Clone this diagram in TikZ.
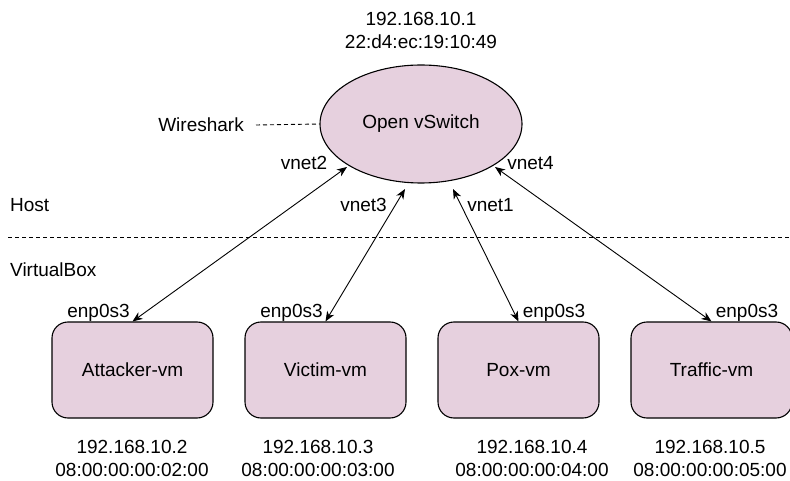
\documentclass[tikz,border=0pt]{standalone}
\usepackage{fontspec}
\setmainfont{Liberation Sans}
\usetikzlibrary{arrows.meta,shapes.geometric}
\definecolor{vmfill}{HTML}{E6D0DE}
\begin{document}
\begin{tikzpicture}[x=1pt,y=-1pt,
  txt/.style={inner sep=0pt,font=\fontsize{19}{22}\selectfont},
  vmbox/.style={draw=black,line width=1.1pt,fill=vmfill,rounded corners=16pt,minimum width=161pt,minimum height=96pt,inner sep=0pt,font=\fontsize{19}{22}\selectfont},
  link/.style={line width=0.9pt,{Stealth[length=10pt,width=8pt,inset=3pt]}-{Stealth[length=10pt,width=8pt,inset=3pt]}},
  sep/.style={line width=0.9pt,dash pattern=on 4pt off 3pt}]
\useasboundingbox (0,0) rectangle (790,481);
% switch
\node[draw=black,line width=1.1pt,fill=vmfill,ellipse,minimum width=202pt,minimum height=118pt,inner sep=0pt,font=\fontsize{19}{22}\selectfont] (sw) at (421,124) {Open vSwitch};
\node[txt] (ip1) at (421,19) {192.168.10.1};
\node[txt] (mac1) at (421,42) {22:d4:ec:19:10:49};
\node[txt,anchor=east] (ws) at (244,125) {Wireshark};
\draw[sep] (ws.east) ++(12,0) coordinate (wsl) -- (sw.west);
% host / virtualbox
\node[txt,anchor=west] (host) at (10,205) {Host};
\node[txt,anchor=west] (vbox) at (10,270) {VirtualBox};
\coordinate (sepl) at (8,237);
\coordinate (sepr) at (790,237);
\draw[sep] (sepl) -- (sepr);
% vms
\node[vmbox] (vm1) at (132.5,370) {Attacker-vm};
\node[vmbox] (vm2) at (325.5,370) {Victim-vm};
\node[vmbox] (vm3) at (518.5,370) {Pox-vm};
\node[vmbox] (vm4) at (711.5,370) {Traffic-vm};
% addresses
\node[txt] (ip2) at (132,447) {192.168.10.2};
\node[txt] (mac2) at (132,470) {08:00:00:00:02:00};
\node[txt] (ip3) at (318,447) {192.168.10.3};
\node[txt] (mac3) at (318,470) {08:00:00:00:03:00};
\node[txt] (ip4) at (532,447) {192.168.10.4};
\node[txt] (mac4) at (532,470) {08:00:00:00:04:00};
\node[txt] (ip5) at (710,447) {192.168.10.5};
\node[txt] (mac5) at (710,470) {08:00:00:00:05:00};
% interface labels
\node[txt] (e1) at (98.5,313) {enp0s3};
\node[txt] (e2) at (291.5,313) {enp0s3};
\node[txt] (e3) at (554,313) {enp0s3};
\node[txt] (e4) at (747,313) {enp0s3};
\node[txt] (v2) at (304,163) {vnet2};
\node[txt] (v4) at (530.5,163) {vnet4};
\node[txt] (v3) at (363.5,205) {vnet3};
\node[txt] (v1) at (490.5,205) {vnet1};
% links
\coordinate (s1) at (347,167);
\coordinate (s2) at (405,189);
\coordinate (s3) at (453,189);
\coordinate (s4) at (495,167);
\draw[link] (s1) -- (vm1.north);
\draw[link] (s2) -- (vm2.north);
\draw[link] (s3) -- (vm3.north);
\draw[link] (s4) -- (vm4.north);
\end{tikzpicture}
\end{document}
